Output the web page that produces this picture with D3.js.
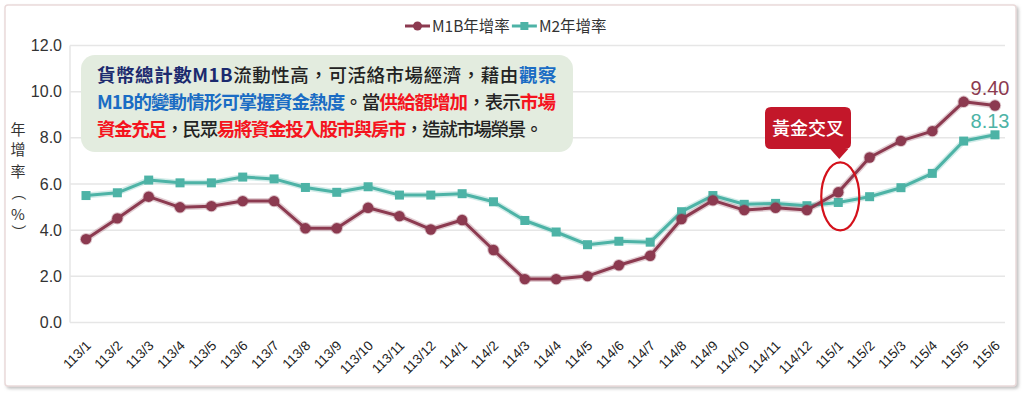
<!DOCTYPE html>
<html>
<head>
<meta charset="utf-8">
<script src="https://cdn.jsdelivr.net/npm/d3@7/dist/d3.min.js"></script>
<style>
  body { margin:0; background:#fff; }
  svg text { font-family: "Liberation Sans Narrow", "Noto Sans CJK TC", sans-serif; }
</style>
</head>
<body>
<svg id="chart" width="1024" height="400"></svg>
<script>
// --- data ---
const months   = ["113/1","113/2","113/3","113/4","113/5","113/6","113/7","113/8","113/9","113/10","113/11","113/12",
                  "114/1","114/2","114/3","114/4","114/5","114/6","114/7","114/8","114/9","114/10","114/11","114/12",
                  "115/1","115/2","115/3","115/4","115/5","115/6"];
const m1bRate  = [3.61,4.51,5.45,4.99,5.04,5.26,5.26,4.08,4.08,4.97,4.61,4.03,
                  4.44,3.14,1.88,1.88,2.01,2.48,2.89,4.48,5.29,4.87,4.97,4.87,
                  5.64,7.15,7.87,8.29,9.56,9.40];
const m2Rate   = [5.50,5.62,6.17,6.05,6.05,6.30,6.22,5.85,5.64,5.88,5.52,5.52,
                  5.58,5.23,4.42,3.92,3.37,3.52,3.48,4.80,5.50,5.12,5.16,5.06,
                  5.20,5.45,5.84,6.46,7.86,8.13];
const yTicks   = [0,2,4,6,8,10,12];
const seriesNames = ["M1B年增率","M2年增率"];
const yTitle   = ["年","增","率","（","%","）"];
const calloutText = "黃金交叉";
const crossIdx = 24;   // 115/1
const noteLines = [
  [["貨幣總計數M1B","#1b2a6e",700],["流動性高，可活絡市場經濟，藉由","#222",500],["觀察","#1a6cc4",700]],
  [["M1B的變動情形可掌握資金熱度","#1a6cc4",700],["。當","#222",500],["供給額增加","#f5141e",700],["，表示","#222",500],["市場","#f5141e",700]],
  [["資金充足","#f5141e",700],["，民眾","#222",500],["易將資金投入股市與房市","#f5141e",700],["，造就市場榮景。","#222",500]]
];
const noteWidths = [460, 458, 445];

const RED = "#8c3a50", TEAL = "#4db3a6";

const svg = d3.select("#chart");

// outer frame with soft shadow
const defs = svg.append("defs");
const f = defs.append("filter").attr("id","shadow").attr("x","-5%").attr("y","-5%").attr("width","110%").attr("height","115%");
f.append("feDropShadow").attr("dx",2).attr("dy",2).attr("stdDeviation",1.5).attr("flood-color","#999").attr("flood-opacity",0.6);
svg.append("rect")
  .attr("x",5).attr("y",5).attr("width",1011).attr("height",381).attr("rx",3)
  .attr("fill","#fff").attr("stroke","#eadada").attr("stroke-width",1.5)
  .attr("filter","url(#shadow)");

const x = d3.scalePoint().domain(months).range([86,995]);
const y = d3.scaleLinear().domain([0,12]).range([322.5,45.5]);

// gridlines
svg.append("g").selectAll("line").data(yTicks).enter().append("line")
  .attr("x1",70).attr("x2",1005)
  .attr("y1",d=>y(d)).attr("y2",d=>y(d))
  .attr("stroke","#e6e6e6").attr("stroke-width",1.5);
svg.append("line").attr("x1",70).attr("x2",70).attr("y1",y(12)).attr("y2",y(0))
  .attr("stroke","#e6e6e6").attr("stroke-width",1.5);

// y axis labels
const yAxis = d3.axisLeft(y).tickValues(yTicks).tickFormat(d3.format(".1f")).tickSize(0).tickPadding(8);
const yg = svg.append("g").attr("transform","translate(70,0)").call(yAxis);
yg.select(".domain").remove();
yg.selectAll("text").attr("font-size",16).attr("fill","#333")
  .style("font-family","'Liberation Sans Narrow', sans-serif");

// y title
const yTitleY = [135,155,177,198,220,237];
svg.append("g").selectAll("text").data(yTitle).enter().append("text")
  .attr("x",18).attr("y",(d,i)=>yTitleY[i])
  .attr("text-anchor","middle").attr("font-size",15).attr("fill","#333")
  .style("font-family","'Noto Sans CJK TC', sans-serif")
  .attr("transform",(d,i)=> (d==="（"||d==="）") ? `rotate(90,18,${yTitleY[i]-5})` : null)
  .text(d=>d);

// x axis labels
const xAxis = d3.axisBottom(x).tickSize(0).tickPadding(0);
const xg = svg.append("g").attr("transform","translate(0,333)").call(xAxis);
xg.select(".domain").remove();
xg.selectAll("text")
  .attr("font-size",13.5).attr("fill","#222")
  .style("font-family","'Liberation Sans', sans-serif")
  .attr("text-anchor","end").attr("dy","0.35em").attr("dx",0)
  .attr("transform","translate(2,10) rotate(-45)");

// lines
const series = [
  {name:seriesNames[0], vals:m1bRate, color:RED},
  {name:seriesNames[1], vals:m2Rate, color:TEAL}
];
const line = d3.line().x((d,i)=>x(months[i])).y(d=>y(d));

// draw M2 first then M1B on top
[series[1], series[0]].forEach(s=>{
  const g = svg.append("g");
  g.append("path").attr("d",line(s.vals)).attr("fill","none")
    .attr("stroke",s.color).attr("stroke-opacity",0.25).attr("stroke-width",6).attr("stroke-linejoin","round");
  g.append("path").attr("d",line(s.vals)).attr("fill","none")
    .attr("stroke",s.color).attr("stroke-width",3).attr("stroke-linejoin","round");
  if (s.color===RED) {
    g.selectAll("circle").data(s.vals).enter().append("circle")
      .attr("cx",(d,i)=>x(months[i])).attr("cy",d=>y(d)).attr("r",5.2)
      .attr("fill",s.color).attr("stroke",s.color).attr("stroke-opacity",0.3).attr("stroke-width",2);
  } else {
    g.selectAll("rect").data(s.vals).enter().append("rect")
      .attr("x",(d,i)=>x(months[i])-4.5).attr("y",d=>y(d)-4.5).attr("width",9).attr("height",9)
      .attr("fill",s.color);
  }
});

// end value labels
svg.append("text").attr("x",x(months[29])-5).attr("y",y(m1bRate[29])-11)
  .attr("text-anchor","middle").attr("font-size",20).attr("fill",RED)
  .style("font-family","'Liberation Sans Narrow', sans-serif")
  .text(d3.format(".2f")(m1bRate[29]));
svg.append("text").attr("x",x(months[29])-5).attr("y",y(m2Rate[29])-7)
  .attr("text-anchor","middle").attr("font-size",20).attr("fill",TEAL)
  .style("font-family","'Liberation Sans Narrow', sans-serif")
  .text(d3.format(".2f")(m2Rate[29]));

// legend
const lg = svg.append("g").attr("transform","translate(405,26)");
let lx = 0;
series.forEach(s=>{
  lg.append("line").attr("x1",lx).attr("x2",lx+25).attr("y1",0).attr("y2",0)
    .attr("stroke",s.color).attr("stroke-width",3);
  if (s.color===RED) lg.append("circle").attr("cx",lx+12.5).attr("cy",0).attr("r",4.5).attr("fill",s.color);
  else lg.append("rect").attr("x",lx+8.5).attr("y",-4).attr("width",8).attr("height",8).attr("fill",s.color);
  const t = lg.append("text").attr("x",lx+27).attr("y",6).attr("font-size",15.5).attr("fill","#333")
    .style("font-family","'Liberation Sans Narrow', 'Noto Sans CJK TC', sans-serif")
    .text(s.name);
  lx += t.node().getComputedTextLength() + 29;
});

// annotation box
svg.append("rect").attr("x",81).attr("y",55).attr("width",492).attr("height",97).attr("rx",14)
  .attr("fill","#e3ecdf");
// each coloured run is its own text; letter-spacing squeezes a line to the width seen in the picture
const noteG = svg.append("g").style("font-family","'Noto Sans CJK TC', sans-serif");
noteLines.forEach((ln,li)=>{
  const texts = ln.map(seg => noteG.append("text").attr("font-size",18.5)
    .attr("y",82 + li*27).attr("fill",seg[1]).attr("font-weight",seg[2]).text(seg[0]));
  const natural = d3.sum(texts, t => t.node().getComputedTextLength());
  const nChars = d3.sum(ln, seg => seg[0].length);
  const ls = (noteWidths[li] - natural) / nChars;
  let cx0 = 97;
  texts.forEach(t => {
    t.attr("letter-spacing", ls).attr("x", cx0);
    cx0 += t.node().getComputedTextLength();
  });
});

// golden cross callout
const cx = x(months[crossIdx]), cy = y((m1bRate[crossIdx]+m2Rate[crossIdx])/2);
svg.append("ellipse").attr("cx",cx+2).attr("cy",cy-1).attr("rx",19).attr("ry",34)
  .attr("fill","none").attr("stroke","#d4111b").attr("stroke-width",2.2);
const bx = 765, by = 107, bw = 86, bh = 42, r = 6, tipX = cx + 1;
const p = d3.path();
p.moveTo(bx+r,by); p.lineTo(bx+bw-r,by); p.quadraticCurveTo(bx+bw,by,bx+bw,by+r);
p.lineTo(bx+bw,by+bh-r); p.quadraticCurveTo(bx+bw,by+bh,bx+bw-r,by+bh);
p.lineTo(tipX+9,by+bh); p.lineTo(tipX,by+bh+10); p.lineTo(tipX-9,by+bh);
p.lineTo(bx+r,by+bh); p.quadraticCurveTo(bx,by+bh,bx,by+bh-r);
p.lineTo(bx,by+r); p.quadraticCurveTo(bx,by,bx+r,by); p.closePath();
svg.append("path").attr("d",p.toString()).attr("fill","#c3172a");
svg.append("text").attr("x",bx+bw/2).attr("y",by+bh/2+6.5).attr("text-anchor","middle")
  .attr("font-size",18).attr("fill","#fff").attr("font-weight",500)
  .style("font-family","'Noto Sans CJK TC', sans-serif").text(calloutText);
</script>
</body>
</html>
